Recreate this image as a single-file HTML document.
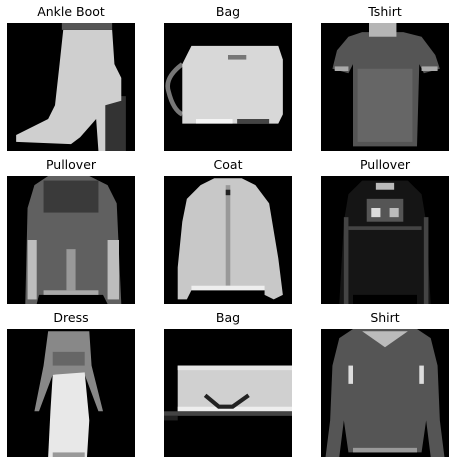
<!DOCTYPE html>
<html><head><meta charset="utf-8"><style>
html,body{margin:0;padding:0;background:#fff;width:457px;height:465px;overflow:hidden}
svg.img{position:absolute;width:128px;height:128px}
.t{position:absolute;width:150px;text-align:center;font:12.5px "DejaVu Sans","Liberation Sans",sans-serif;color:#000}
</style></head><body>

<div class="t" style="left:-4px;top:4px">Ankle Boot</div>
<div class="t" style="left:153px;top:4px">Bag</div>
<div class="t" style="left:310px;top:4px">Tshirt</div>
<div class="t" style="left:-4px;top:157px">Pullover</div>
<div class="t" style="left:153px;top:157px">Coat</div>
<div class="t" style="left:310px;top:157px">Pullover</div>
<div class="t" style="left:-4px;top:310px">Dress</div>
<div class="t" style="left:153px;top:310px">Bag</div>
<div class="t" style="left:310px;top:310px">Shirt</div>

<svg class="img" style="left:7px;top:23px" viewBox="0 0 28 28" preserveAspectRatio="none">
<rect width="28" height="28" fill="#000"/>
<rect x="21" y="16" width="5" height="12" fill="#333"/>
<polygon fill="#cfcfcf" points="12.3,1.5 23,1.5 23.5,9 25,12 25,17 21.5,18 21.5,28 20,28 19.5,21 16,25 14,26.5 2,26 2,24.5 6,22.5 9,21 10.5,18 11.5,9"/>
<rect x="12" y="0" width="11" height="1.5" fill="#555"/>
</svg>

<svg class="img" style="left:164px;top:23px" viewBox="0 0 28 28" preserveAspectRatio="none">
<rect width="28" height="28" fill="#000"/>
<path d="M4,9 Q0,12 1,15 Q2,19 4,20" stroke="#777" stroke-width="1" fill="none"/>
<polygon fill="#d8d8d8" points="6,5 25,5 26,8 26,20 25,22 4,22 4,9"/>
<rect x="14" y="7" width="4" height="1" fill="#777"/>
<rect x="7" y="21" width="8" height="1" fill="#f5f5f5"/>
<rect x="16" y="21" width="7" height="1" fill="#444"/>
</svg>

<svg class="img" style="left:321px;top:23px" viewBox="0 0 28 28" preserveAspectRatio="none">
<rect width="28" height="28" fill="#000"/>
<polygon fill="#555" points="9,2 18,2 22,3 25,7 26,10 22.5,11 21.5,9 21,27 7,27 7,9 6,11 2.5,10 3.5,6 6,3"/>
<polygon fill="#666" points="8,10 20,10 20,26 8,26"/>
<rect x="10.5" y="0" width="6" height="3" fill="#b5b5b5"/>
<rect x="3" y="9.5" width="3" height="1" fill="#aaa"/>
<rect x="22" y="9.5" width="3.5" height="1" fill="#aaa"/>
</svg>

<svg class="img" style="left:7px;top:176px" viewBox="0 0 28 28" preserveAspectRatio="none">
<rect width="28" height="28" fill="#000"/>
<polygon fill="#606060" points="9,0 18,0 22,2 24,6 25,28 22,28 21,26 7,26 6.5,28 4,28 4.5,7 6,2"/>
<rect x="8" y="1" width="12" height="7" fill="#3a3a3a"/>
<rect x="4.5" y="14" width="2" height="13" fill="#bdbdbd"/>
<rect x="22" y="14" width="2.5" height="13" fill="#bdbdbd"/>
<rect x="13" y="16" width="2" height="9" fill="#999"/>
<rect x="8" y="25" width="12" height="1" fill="#aaa"/>
</svg>

<svg class="img" style="left:164px;top:176px" viewBox="0 0 28 28" preserveAspectRatio="none">
<rect width="28" height="28" fill="#000"/>
<polygon fill="#c8c8c8" points="11,0.5 17,0.5 20,2 23,6 24,12 25,18 26,26 24,27 22,26 22,25 6,25 5,27 3,27 3,20 4,10 5,5 8,2"/>
<rect x="13.5" y="2" width="1" height="22" fill="#999"/>
<rect x="13.5" y="3" width="1" height="1.2" fill="#222"/>
<rect x="6" y="24" width="16" height="1" fill="#eee"/>
</svg>

<svg class="img" style="left:321px;top:176px" viewBox="0 0 28 28" preserveAspectRatio="none">
<rect width="28" height="28" fill="#000"/>
<polygon fill="#151515" points="9,1 19,1 22,4 23,10 24,28 21,28 21,26 7,26 7,28 4,28 5,10 6,4"/>
<rect x="12" y="1.5" width="4" height="1.5" fill="#bbb"/>
<rect x="10" y="5" width="8" height="5" fill="#555"/>
<rect x="11" y="7" width="2" height="2" fill="#ddd"/>
<rect x="15" y="7" width="2" height="2" fill="#bbb"/>
<rect x="6" y="11" width="16" height="0.8" fill="#444"/>
<rect x="5" y="9" width="1" height="19" fill="#444"/>
<rect x="22.5" y="9" width="1" height="19" fill="#444"/>
</svg>

<svg class="img" style="left:7px;top:329px" viewBox="0 0 28 28" preserveAspectRatio="none">
<rect width="28" height="28" fill="#000"/>
<polygon fill="#888" points="9,0.5 18,0.5 18.5,8 21,18 20,18 17,10 10,10 7,18 6,18 8,8"/>
<rect x="10" y="5" width="7" height="3" fill="#666"/>
<polygon fill="#e8e8e8" points="10,10 17,9.5 18,20 17.5,28 9,28 9.5,18"/>
<rect x="10" y="27" width="7" height="1" fill="#999"/>
</svg>

<svg class="img" style="left:164px;top:329px" viewBox="0 0 28 28" preserveAspectRatio="none">
<rect width="28" height="28" fill="#000"/>
<rect x="3" y="8" width="25" height="10" fill="#d0d0d0"/>
<rect x="3" y="8" width="25" height="1" fill="#e6e6e6"/>
<rect x="3" y="17" width="25" height="1" fill="#eee"/>
<rect x="0" y="18" width="28" height="1" fill="#444"/>
<rect x="0" y="19" width="3" height="1" fill="#222"/>
<polyline points="9,14.5 12,17 15,17 18.5,14.5" stroke="#222" stroke-width="0.9" fill="none"/>
</svg>

<svg class="img" style="left:321px;top:329px" viewBox="0 0 28 28" preserveAspectRatio="none">
<rect width="28" height="28" fill="#000"/>
<polygon fill="#555" points="7,0 21,0 24,2 25.5,8 26,20 27,28 24,28 23,20 22,27 6,27 5,20 4,28 1,28 2,20 2.5,8 4,2"/>
<polygon fill="#bbb" points="9,0.5 19,0.5 14,4"/>
<rect x="6" y="8" width="1" height="4" fill="#ddd"/>
<rect x="21.5" y="8" width="1" height="4" fill="#ddd"/>
<rect x="7" y="26" width="14" height="1" fill="#999"/>
</svg>

</body></html>
